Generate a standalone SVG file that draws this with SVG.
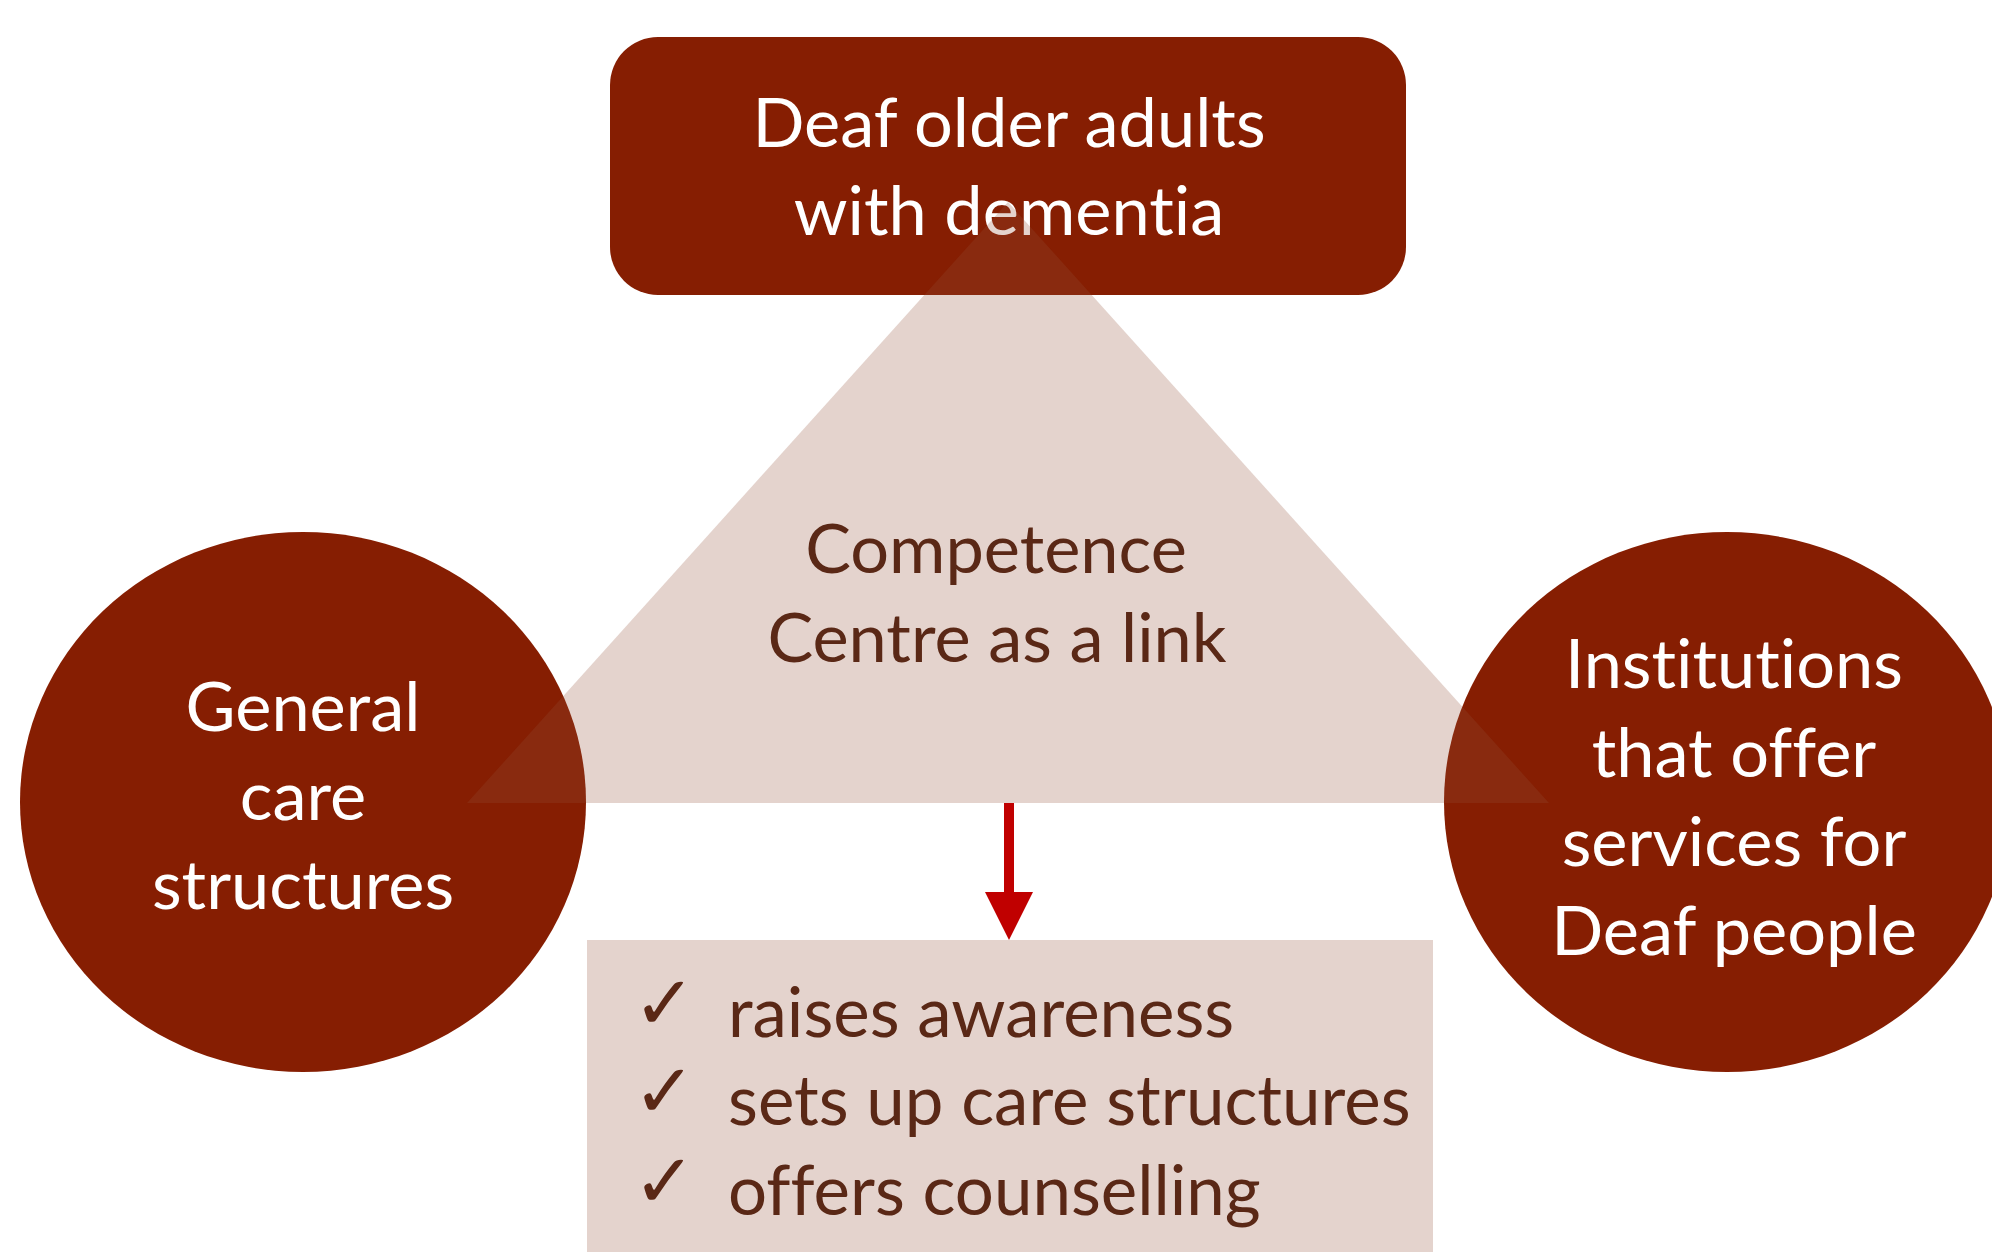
<svg xmlns="http://www.w3.org/2000/svg" width="1992" height="1252" viewBox="0 0 1992 1252">
<style>
text{font-variant-ligatures:none;font-feature-settings:"liga" 0,"dlig" 0}
.node{fill:#861e02}
.wt{fill:#ffffff;font-family:Lato,"Open Sans",sans-serif;font-size:68.5px;text-anchor:middle}
.bt{fill:#5a2816;font-family:Lato,"Open Sans",sans-serif;font-size:68.5px;text-anchor:middle}
.li{fill:#5a2816;font-family:Lato,"Open Sans",sans-serif;font-size:69px}
.ck{fill:#5a2816;font-family:"DejaVu Sans",sans-serif;font-size:75px}
</style>
<defs>
<marker id="ah" markerUnits="userSpaceOnUse" markerWidth="48" markerHeight="48" refX="24" refY="0" orient="auto" viewBox="0 -24 48 48">
<path d="M0,-24 L48,0 L0,24 Z" fill="#c00000"/>
</marker>
</defs>
<g id="node-top">
<rect class="node" x="610" y="37" width="796" height="258" rx="48" ry="48"/>
<text class="wt" x="1009" y="147">Deaf older adults</text>
<text class="wt" x="1009" y="235">with dementia</text>
</g>
<g id="node-left">
<ellipse class="node" cx="303" cy="802" rx="283" ry="270"/>
<text class="wt" x="303" y="731">General</text>
<text class="wt" x="303" y="820">care</text>
<text class="wt" x="303" y="909">structures</text>
</g>
<g id="node-right">
<ellipse class="node" cx="1727" cy="802" rx="283" ry="270"/>
<text class="wt" x="1734" y="688">Institutions</text>
<text class="wt" x="1734" y="777">that offer</text>
<text class="wt" x="1734" y="866">services for</text>
<text class="wt" x="1734" y="955">Deaf people</text>
</g>
<g id="node-centre">
<polygon points="1008,202 1549,803 467,803" fill="#934f37" fill-opacity="0.25"/>
<text class="bt" x="996" y="573">Competence</text>
<text class="bt" x="997" y="662">Centre as a link</text>
</g>
<g id="connectors">
<path d="M1009,803 L1009,916" stroke="#c00000" stroke-width="10" fill="none" marker-end="url(#ah)"/>
</g>
<g id="node-list">
<rect x="587" y="940" width="846" height="312" fill="#e4d3cd"/>
<text class="ck" x="633" y="1029">✓</text>
<text class="ck" x="633" y="1117">✓</text>
<text class="ck" x="633" y="1207">✓</text>
<text class="li" x="728" y="1037">raises awareness</text>
<text class="li" x="728" y="1125">sets up care structures</text>
<text class="li" x="728" y="1215">offers counselling</text>
</g>
</svg>
